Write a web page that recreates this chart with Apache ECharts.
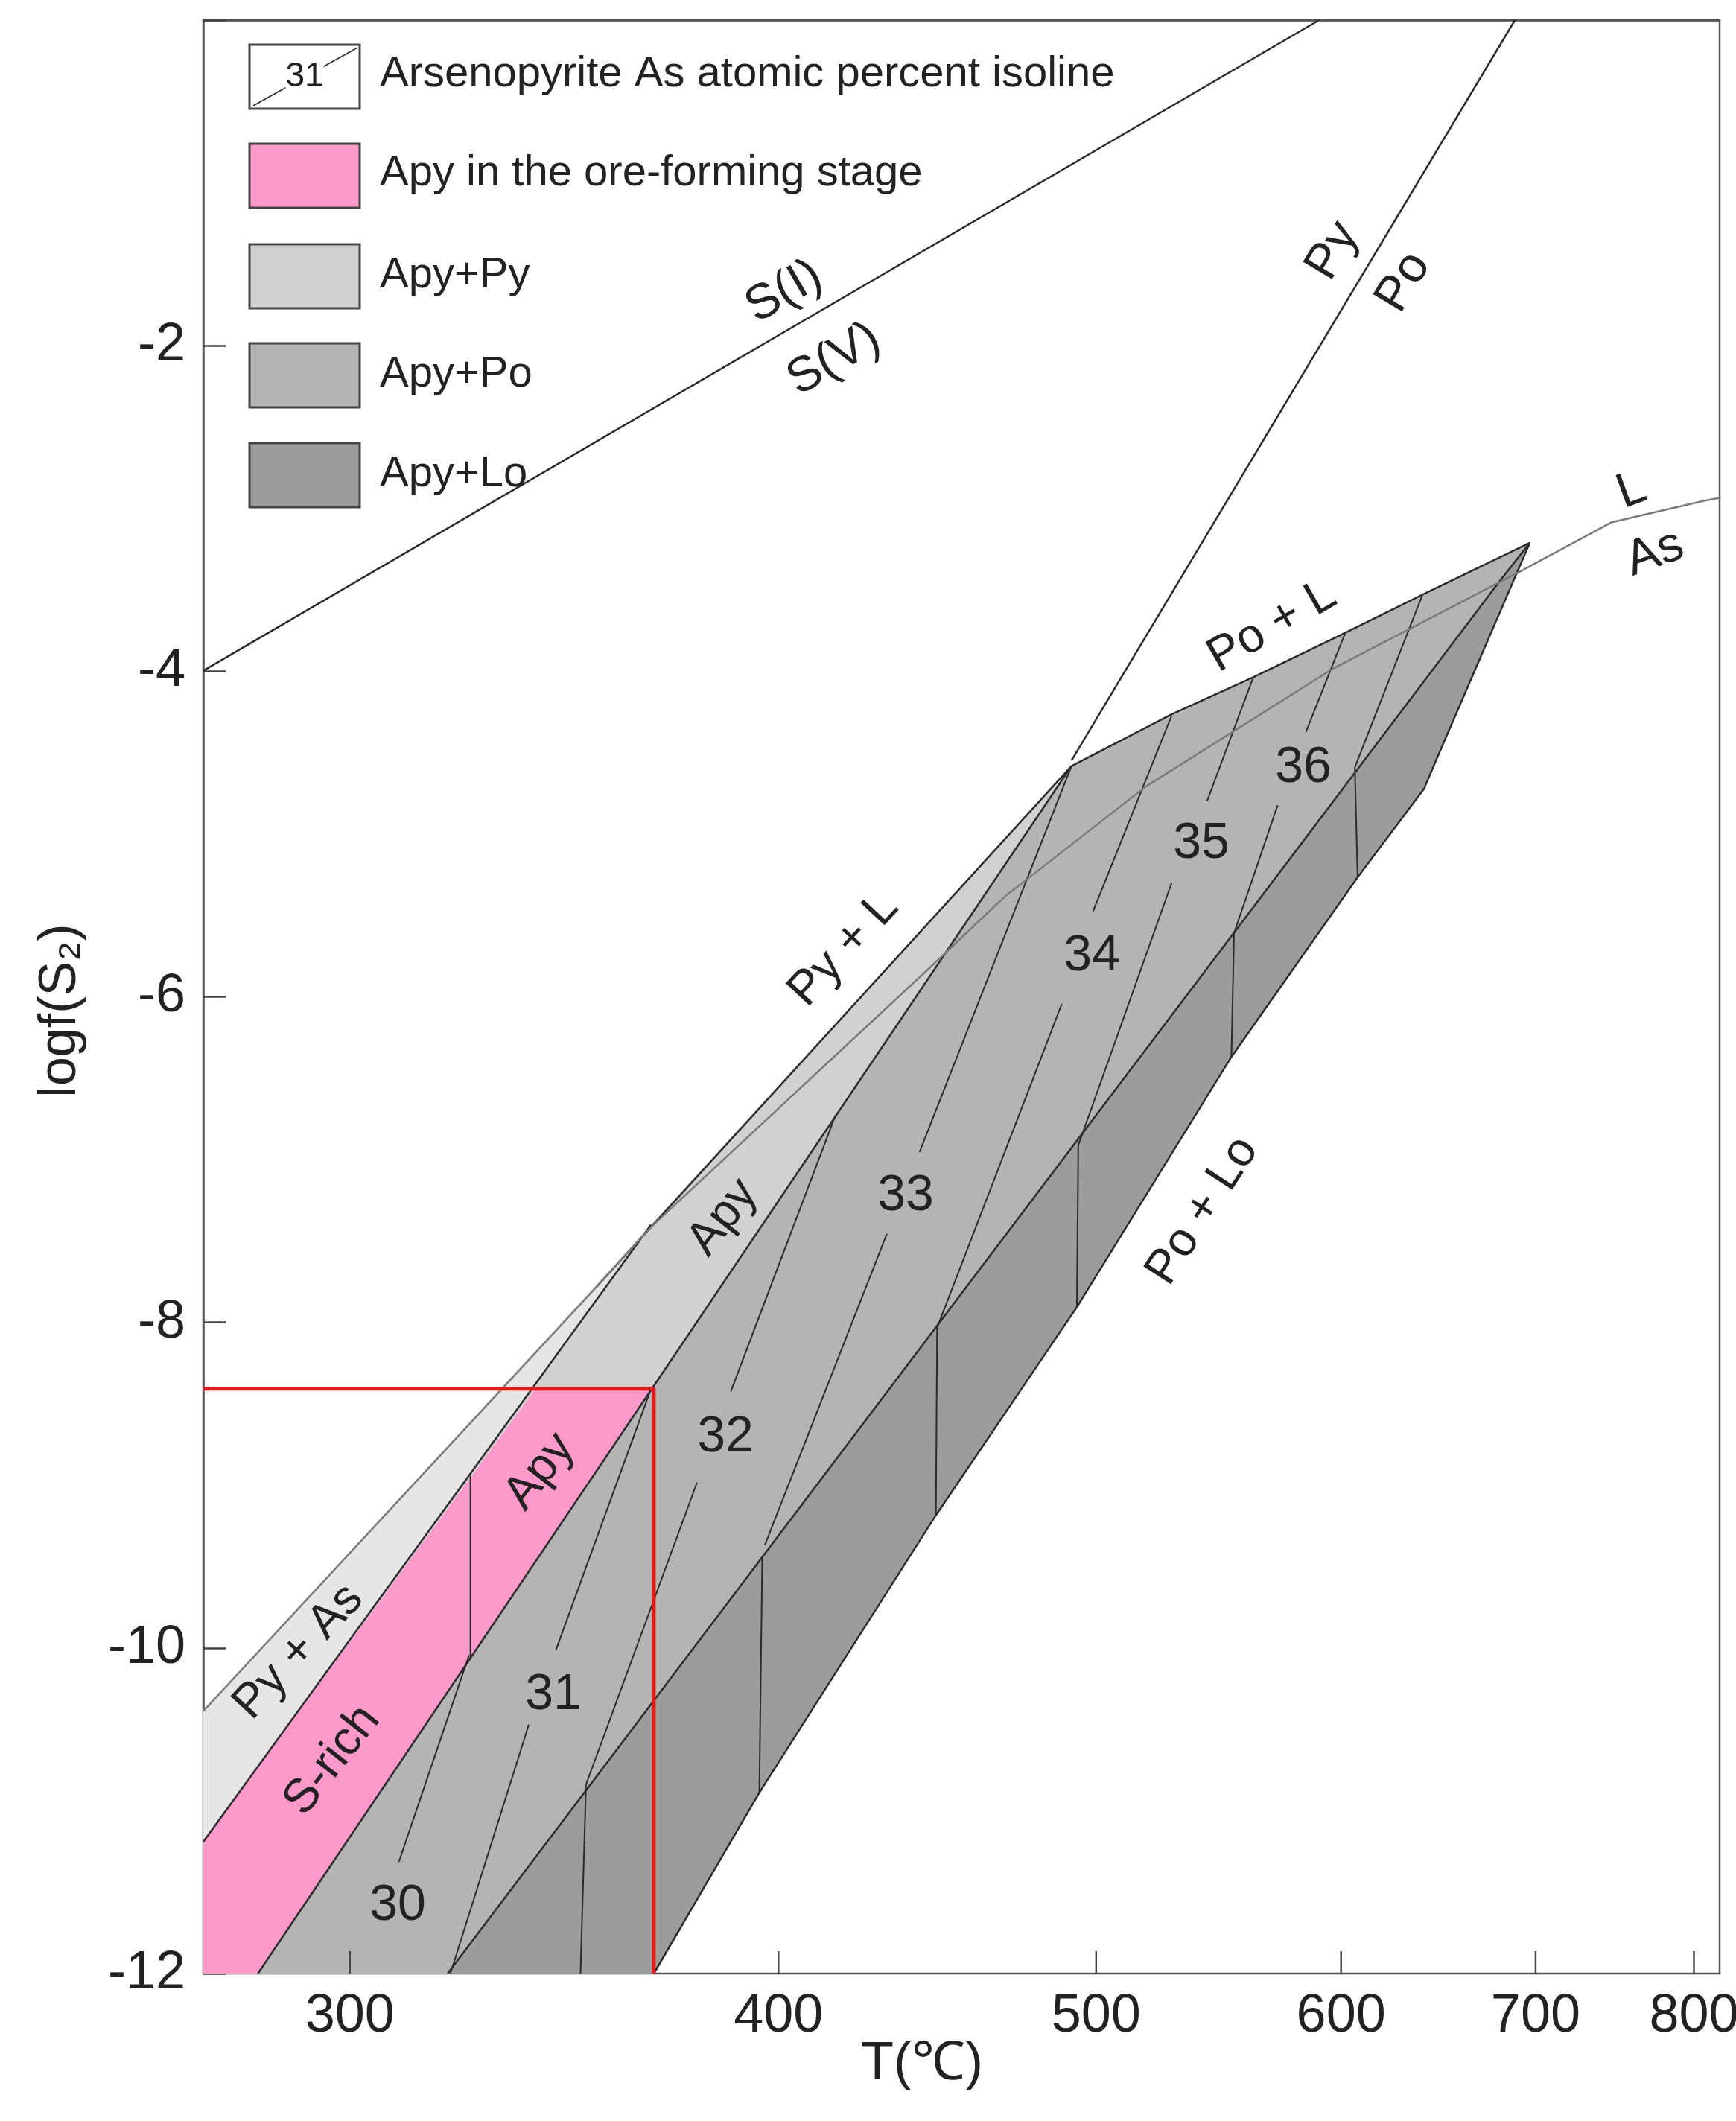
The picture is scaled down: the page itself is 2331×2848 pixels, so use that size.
<!DOCTYPE html>
<html>
<head>
<meta charset="utf-8">
<script src="https://cdn.jsdelivr.net/npm/echarts@6/dist/echarts.min.js"></script>
<style>html,body{margin:0;padding:0;background:#fff}#c{width:2331px;height:2848px}</style>
</head>
<body>
<div id="c"></div>
<script>
// T in °C, logf(S2); x axis is 1000/T(K) plotted inverted
var tickT = [300, 400, 500, 600, 700, 800];
var tickY = [-2, -4, -6, -8, -10, -12];

// regions
var pyAs  = [[272.3,-10.388],[366.8,-7.40],[272.3,-11.19]];
var apyPy = [[366.8,-7.40],[491.2,-4.582],[282.3,-12],[272.3,-12],[272.3,-11.19]];
var apyPo = [[282.3,-12],[491.2,-4.582],[528.3,-4.264],[561.3,-4.037],[602.0,-3.763],[639.3,-3.529],[696.7,-3.211],[679.3,-3.454],[320.1,-12]];
var apyLo = [[320.1,-12],[679.3,-3.454],[696.7,-3.211],[645.5,-4.565],[640.0,-4.723],[607.7,-5.266],[552.2,-6.369],[493.1,-7.906],[446.1,-9.185],[394.8,-10.889],[367.5,-12]];
var oreApy = [[272.3,-11.19],[339.5,-8.408],[366.8,-8.408],[282.3,-12],[272.3,-12]];

// boundaries
var lineA = [[353.6,-7.781],[491.2,-4.582]];
var lineB = [[272.3,-11.19],[366.8,-7.40]];
var lineC = [[282.3,-12],[491.2,-4.582]];
var lineD = [[320.1,-12],[679.3,-3.454],[696.7,-3.211]];
var lineE = [[367.5,-12],[394.8,-10.889],[446.1,-9.185],[493.1,-7.906],[552.2,-6.369],[607.7,-5.266],[640.0,-4.723],[645.5,-4.565],[696.7,-3.211]];
var topEdge = [[491.2,-4.582],[528.3,-4.264],[561.3,-4.037],[602.0,-3.763],[639.3,-3.529],[696.7,-3.211]];
var lAs = [[272.3,-10.388],[353.6,-7.781],[366.8,-7.414],[444.8,-5.810],[468.4,-5.383],[518.5,-4.707],[595.8,-3.988],[689.8,-3.395],[745.3,-3.086],[807.6,-2.952],[818.2,-2.935]];
var sLine = [[272.3,-3.997],[590,0]];
var pyPo = [[491.2,-4.548],[688.3,0]];
var redBox = [[272.3,-8.408],[367.5,-8.408],[367.5,-12]];

// isolines (30..37) and tie lines
var isolines = [
  [[309.9,-11.315],[324.7,-10.045]],
  [[320.7,-12],[337.9,-10.471]], [[344.1,-10.012],[366.8,-8.408]],
  [[351.1,-10.839],[378.4,-8.984]], [[387.2,-8.424],[416.0,-6.728]],
  [[396.3,-9.368],[431.1,-7.455]], [[441.0,-6.954],[491.2,-4.582]],
  [[446.5,-8.032],[487.8,-6.043]], [[498.9,-5.475],[528.3,-4.272]],
  [[493.6,-6.912],[528.3,-5.300]], [[542.3,-4.798],[561.3,-4.038]],
  [[553.3,-5.609],[571.7,-4.824]], [[584.1,-4.373],[602.0,-3.763]],
  [[606.4,-4.590],[639.3,-3.529]],
  [[325.0,-8.942],[325.0,-10.062]]
];
var ties = [
  [[351.1,-10.839],[349.8,-12]], [[395.6,-9.444],[394.8,-10.889]],
  [[446.5,-8.032],[446.1,-9.185]], [[493.6,-6.912],[493.1,-7.906]],
  [[553.3,-5.609],[552.2,-6.369]], [[606.4,-4.590],[607.7,-5.266]]
];

function u(t){ return 1000 / (t + 273); }
function P(a){ return a.map(function(p){ return [u(p[0]), p[1]]; }); }

function fill(name, pts, color){
  return {type:'custom', name:name, z:1, silent:true, clip:false, data:[[u(pts[0][0]), pts[0][1]]],
    renderItem:function(params, api){
      return {type:'polygon', shape:{points:P(pts).map(function(p){ return api.coord(p); })}, style:{fill:color}};
    }};
}
function line(pts, color, w, z){
  return {type:'line', data:P(pts), symbol:'none', silent:true, z:z||3, animation:false,
    lineStyle:{color:color, width:w}};
}

var series = [
  fill('Py+As', pyAs, '#e6e6e6'),
  fill('Apy+Py', apyPy, '#d1d1d1'),
  fill('Apy+Po', apyPo, '#b4b4b4'),
  fill('Apy+Lo', apyLo, '#9c9c9c'),
  fill('ore', oreApy, '#fd99cb'),
  line(lAs, '#7a7a7a', 2.5, 4),
  line(lineA, '#2a2a2a', 2.5), line(lineB, '#2a2a2a', 2.5), line(lineC, '#2a2a2a', 2.5),
  line(lineD, '#2a2a2a', 2.5), line(lineE, '#2a2a2a', 2.5), line(topEdge, '#2a2a2a', 2.5),
  line(sLine, '#2a2a2a', 2.5), line(pyPo, '#2a2a2a', 2.5),
  line(redBox, '#e01b1b', 5, 6)
];
isolines.forEach(function(l){ series.push(line(l, '#2a2a2a', 2)); });
ties.forEach(function(l){ series.push(line(l, '#2a2a2a', 2)); });

// x ticks and labels in °C, placed through the axis scale
series.push({type:'custom', z:7, clip:false, silent:true, data:tickT.map(function(t){ return [u(t), -12, t]; }),
  renderItem:function(params, api){
    var p = api.coord([api.value(0), -12]);
    return {type:'group', children:[
      {type:'line', shape:{x1:p[0], y1:p[1], x2:p[0], y2:p[1]-30}, style:{stroke:'#444', lineWidth:2.5}},
      {type:'text', x:p[0], y:p[1]+22, style:{text:String(api.value(2)), fill:'#222', font:'72px "Liberation Sans", Arial', align:'center', verticalAlign:'top'}}
    ]};
  }});

var chart = echarts.init(document.getElementById('c'));
var F = '"Liberation Sans", Arial, sans-serif';
var NF = '"Liberation Sans Narrow", "Liberation Sans", Arial, sans-serif';
function txt(s, x, y, size, rot, font){
  return {type:'text', x:x, y:y, rotation:(rot||0)*Math.PI/180, z:20,
    style:{text:s, fill:'#222', font:size+'px '+(font||F), align:'center', verticalAlign:'middle'}};
}
function box(y, color){
  return {type:'rect', shape:{x:335, y:y, width:148, height:86}, z:20, style:{fill:color, stroke:'#444', lineWidth:3}};
}
var graphics = [
  box(60, '#fff'),
  {type:'line', shape:{x1:340, y1:142, x2:480, y2:64}, z:21, style:{stroke:'#333', lineWidth:2}},
  {type:'text', x:409, y:103, z:22, style:{text:'31', fill:'#222', font:'46px '+NF, align:'center', verticalAlign:'middle', backgroundColor:'#fff'}},
  box(193, '#fd99cb'), box(328, '#d1d1d1'), box(461, '#b4b4b4'), box(595, '#9c9c9c'),
  {type:'text', x:510, y:100, z:20, style:{text:'Arsenopyrite As atomic percent isoline', fill:'#222', font:'58px '+NF, verticalAlign:'middle'}},
  {type:'text', x:510, y:233, z:20, style:{text:'Apy in the ore-forming stage', fill:'#222', font:'58px '+NF, verticalAlign:'middle'}},
  {type:'text', x:510, y:370, z:20, style:{text:'Apy+Py', fill:'#222', font:'58px '+NF, verticalAlign:'middle'}},
  {type:'text', x:510, y:503, z:20, style:{text:'Apy+Po', fill:'#222', font:'58px '+NF, verticalAlign:'middle'}},
  {type:'text', x:510, y:637, z:20, style:{text:'Apy+Lo', fill:'#222', font:'58px '+NF, verticalAlign:'middle'}},
  txt('S(I)', 1053, 392, 66, 30),
  txt('S(V)', 1120, 483, 66, 30),
  txt('Py', 1790, 337, 66, 59),
  txt('Po', 1885, 379, 66, 59),
  txt('L', 2191, 659, 66, 20),
  txt('As', 2222, 743, 66, 20),
  txt('Po + L', 1708, 841, 64, 30),
  txt('Py + L', 1133, 1275, 64, 47),
  txt('Apy', 971, 1635, 64, 52),
  txt('Po + Lo', 1615, 1626, 64, 57),
  txt('Apy', 725, 1976, 64, 52),
  txt('Py + As', 401, 2218, 64, 47),
  txt('S-rich', 446, 2364, 64, 52),
  txt('30', 534, 2559, 68), txt('31', 743, 2276, 68), txt('32', 974, 1930, 68),
  txt('33', 1216, 1606, 68), txt('34', 1466, 1284, 68), txt('35', 1613, 1133, 68),
  txt('36', 1750, 1031, 68),
  txt('logf(S\u2082)', 82, 1357, 70, 90),
  txt('T(\u2103)', 1238, 2772, 72)
];

chart.setOption({
  animation:false,
  grid:{left:273, top:27, width:2036, height:2623, show:true, borderColor:'#555', borderWidth:2.5, backgroundColor:'transparent'},
  xAxis:{type:'value', inverse:true, min:u(818.2), max:u(272.3),
    axisLine:{show:true, lineStyle:{color:'#555', width:2.5}}, axisTick:{show:false}, axisLabel:{show:false}, splitLine:{show:false}},
  yAxis:{type:'value', min:-12, max:0, interval:2,
    axisLine:{show:true, lineStyle:{color:'#555', width:2.5}},
    axisTick:{show:true, inside:true, length:30, lineStyle:{color:'#444', width:2.5}},
    axisLabel:{fontSize:72, color:'#222', fontFamily:'Liberation Sans', margin:24,
      formatter:function(v){ return tickY.indexOf(v) >= 0 ? String(v) : ''; }},
    splitLine:{show:false}},
  series:series,
  graphic:graphics
});
</script>
</body>
</html>
